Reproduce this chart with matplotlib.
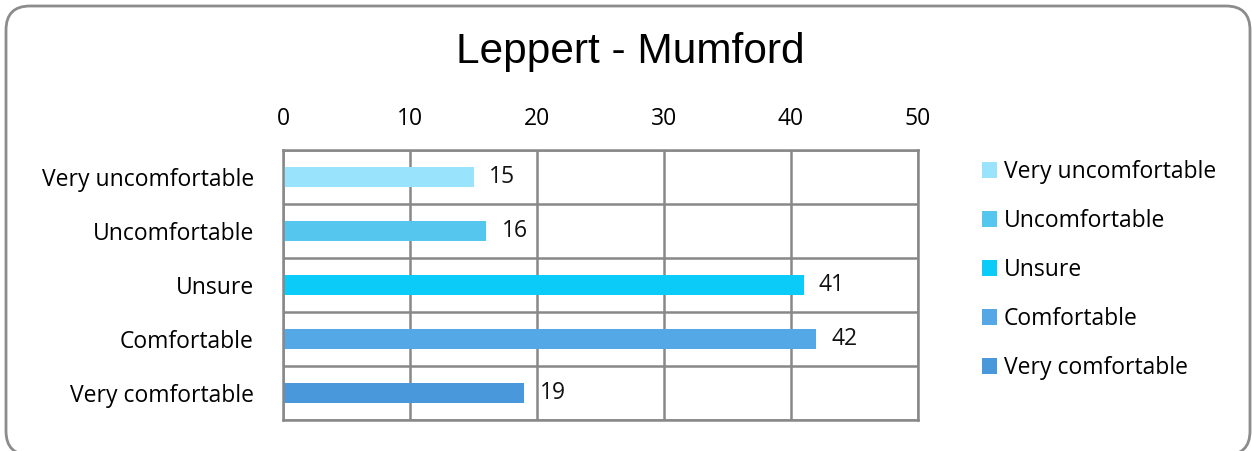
import matplotlib.pyplot as plt
from matplotlib.patches import FancyBboxPatch, Patch

# Datos de la encuesta
categories = ['Very uncomfortable', 'Uncomfortable', 'Unsure', 'Comfortable', 'Very comfortable']
counts = [15, 16, 41, 42, 19]
colors = ['#99E3FC', '#55C7EE', '#0BCBF8', '#55A8E6', '#4A98DC']
xticks = [0, 10, 20, 30, 40, 50]

label_font = 'Open Sans'
fsize = 16.5

fig = plt.figure(figsize=(12.52, 4.51), dpi=100)
W, H = 1252, 451

# Fondo con marco redondeado (coordenadas en pixeles)
bg = fig.add_axes([0, 0, 1, 1], zorder=-1)
bg.set_xlim(0, W)
bg.set_ylim(H, 0)
bg.axis('off')
bg.add_patch(FancyBboxPatch((6, 6), 1244, 449,
                            boxstyle='round,pad=0,rounding_size=24',
                            facecolor='white', edgecolor='#8c8c8c', linewidth=2))

ax = fig.add_axes([283 / W, (H - 420) / H, (918 - 283) / W, (420 - 150) / H])
ax.set_facecolor('none')

y = list(range(len(categories)))
bars = ax.barh(y, counts, height=0.38, color=colors)
ax.bar_label(bars, labels=[str(c) for c in counts], padding=11,
             fontsize=fsize, fontfamily=label_font, color='#111111')

ax.set_xlim(0, 50)
ax.set_ylim(len(categories) - 0.5, -0.5)
ax.set_xticks(xticks)
ax.xaxis.tick_top()
ax.tick_params(axis='x', length=0, pad=14, labelsize=fsize)
ax.tick_params(axis='y', length=0, pad=21, labelsize=fsize)
ax.set_yticks(y)
ax.set_yticklabels(categories)
for lbl in ax.get_xticklabels() + ax.get_yticklabels():
    lbl.set_fontfamily(label_font)

# Rejilla: verticales en los ticks, horizontales entre categorias
ax.set_yticks([i + 0.5 for i in range(-1, len(categories))], minor=True)
ax.tick_params(axis='y', which='minor', length=0)
ax.grid(axis='x', which='major', color='#888888', linewidth=1.8)
ax.grid(axis='y', which='minor', color='#888888', linewidth=1.8)
ax.set_axisbelow(True)
for s in ax.spines.values():
    s.set_color('#888888')
    s.set_linewidth(1.8)

fig.text(630 / W, 1 - 52 / H, 'Leppert - Mumford', ha='center', va='center',
         fontsize=30.5, fontfamily='Liberation Sans')

handles = [Patch(facecolor=c, label=n) for c, n in zip(colors, categories)]
fig.legend(handles=handles, loc='upper left', bbox_to_anchor=(973 / W, 1 - 151 / H),
           frameon=False, prop={'family': label_font, 'size': fsize},
           handlelength=0.65, handleheight=0.65, handletextpad=0.3,
           labelspacing=1.09, borderaxespad=0)

fig.savefig('out.png', dpi=100)
